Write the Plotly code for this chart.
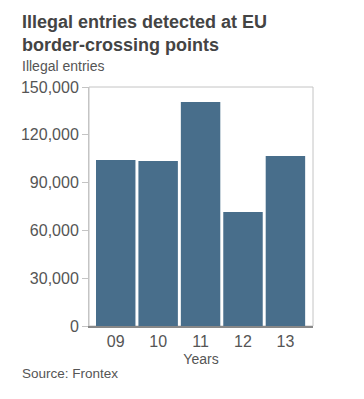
import plotly.graph_objects as go

years = ["09", "10", "11", "12", "13"]
entries = [104200, 103600, 140600, 71500, 106700]
y_ticks = [0, 30000, 60000, 90000, 120000, 150000]
y_tick_labels = ["0", "30,000", "60,000", "90,000", "120,000", "150,000"]

OFF = 8  # default page body margin
W, H = 364 - OFF, 399 - OFF
L, R, T, B = 89 - OFF, 51, 87 - OFF, 73
ph = H - T - B
pw = W - L - R

def py(ypx):
    return (H - B - (ypx - OFF)) / ph

def px(xpx):
    return ((xpx - OFF) - L) / pw

font = "Liberation Sans, Arial, sans-serif"

fig = go.Figure(go.Bar(
    x=list(range(len(years))), y=entries,
    marker=dict(color="#486e8b", line=dict(width=0)),
    hoverinfo="skip",
))

fig.update_layout(
    width=W, height=H,
    margin=dict(l=L, r=R, t=T, b=B),
    paper_bgcolor="white", plot_bgcolor="white",
    bargap=0.07,
    showlegend=False,
    font=dict(family=font, color="#555555"),
    xaxis=dict(
        range=[-0.63, 4.65],
        tickmode="array", tickvals=list(range(len(years))), ticktext=years,
        tickfont=dict(size=16, color="#555555"),
        showgrid=False, zeroline=False,
        showline=True, linecolor="#888888", linewidth=2,
        ticks="", fixedrange=True,
        title=dict(text="Years", font=dict(size=14, color="#555555"), standoff=5),
    ),
    yaxis=dict(
        range=[0, 150000],
        tickmode="array", tickvals=y_ticks, ticktext=y_tick_labels,
        tickfont=dict(size=16, color="#555555"),
        showgrid=False, zeroline=False,
        showline=True, linecolor="#c4c4c4", linewidth=1,
        ticks="outside", ticklen=6, tickcolor="#c4c4c4",
        fixedrange=True,
    ),
    shapes=[dict(type="rect", xref="paper", yref="paper", x0=0, x1=1, y0=0, y1=1,
                 line=dict(color="#c4c4c4", width=1), layer="below")],
    annotations=[
        dict(text="<b>Illegal entries detected at EU<br>border-crossing points</b>",
             xref="paper", yref="paper", x=px(20), y=py(10), xanchor="left", yanchor="top",
             align="left", showarrow=False, font=dict(size=18, color="#444444", family=font)),
        dict(text="Illegal entries",
             xref="paper", yref="paper", x=px(20), y=py(56), xanchor="left", yanchor="top",
             align="left", showarrow=False, font=dict(size=14, color="#555555", family=font)),
        dict(text="Source: Frontex",
             xref="paper", yref="paper", x=px(20), y=py(364), xanchor="left", yanchor="top",
             align="left", showarrow=False, font=dict(size=13.5, color="#555555", family=font)),
    ],
)

fig.write_html("out.html", config={"displayModeBar": False})
